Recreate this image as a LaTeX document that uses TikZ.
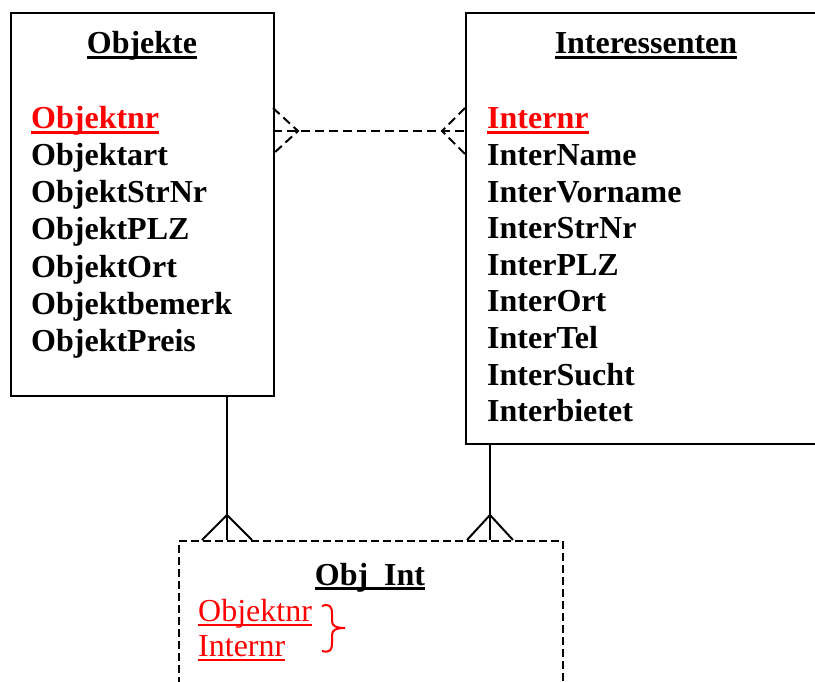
\documentclass[tikz,border=0pt]{standalone}
\usepackage{fontspec}
\setmainfont{Liberation Serif}
\newcommand{\ulx}[2]{\setbox0=\hbox{#2}\rlap{\rule[-5pt]{\wd0}{#1}}\box0}
\tikzset{
  ent/.style={draw, line width=2pt, anchor=north west, inner sep=0pt},
  lbl/.style={anchor=base west, inner sep=0pt, font=\fontsize{32}{36}\selectfont\bfseries},
  ttl/.style={anchor=base, inner sep=0pt, font=\fontsize{32}{36}\selectfont\bfseries},
  rl/.style={anchor=base west, inner sep=0pt, text=red, font=\fontsize{32}{36}\selectfont},
  rel/.style={line width=2pt, dash pattern=on 9pt off 5pt},
  conn/.style={line width=2pt}
}
\begin{document}
\begin{tikzpicture}[x=1pt,y=-1pt]
\useasboundingbox (0,0) rectangle (815,682);
\clip (0,0) rectangle (815,682);
% entities
\node[ent, minimum width=263pt, minimum height=383pt] (obj) at (10,12) {};
\node[ent, minimum width=360pt, minimum height=431pt] (int) at (465,12) {};
\node[ent, dash pattern=on 8pt off 4pt, minimum width=384pt, minimum height=200pt] (oi) at (178,540) {};
% titles
\node[ttl] (tobj) at (142,54) {\ulx{3pt}{Objekte}};
\node[ttl] (tint) at (646,54) {\ulx{3pt}{Interessenten}};
\node[ttl] (toi) at (370,585) {\ulx{3pt}{Obj\_Int}};
% Objekte attributes
\node[lbl, text=red] (o1) at (31,129) {\ulx{3pt}{Objektnr}};
\node[lbl] (o2) at (31,166) {Objektart};
\node[lbl] (o3) at (31,203) {ObjektStrNr};
\node[lbl] (o4) at (31,240) {ObjektPLZ};
\node[lbl] (o5) at (31,277) {ObjektOrt};
\node[lbl] (o6) at (31,314) {Objektbemerk};
\node[lbl] (o7) at (31,351) {ObjektPreis};
% Interessenten attributes
\node[lbl, text=red] (i1) at (487,129) {\ulx{3pt}{Internr}};
\node[lbl] (i2) at (487,165.6) {InterName};
\node[lbl] (i3) at (487,202.2) {InterVorname};
\node[lbl] (i4) at (487,238.8) {InterStrNr};
\node[lbl] (i5) at (487,275.4) {InterPLZ};
\node[lbl] (i6) at (487,312) {InterOrt};
\node[lbl] (i7) at (487,348.6) {InterTel};
\node[lbl] (i8) at (487,385.2) {InterSucht};
\node[lbl] (i9) at (487,421.8) {Interbietet};
% Obj_Int attributes
\node[rl] (k1) at (198,621) {\ulx{2pt}{Objektnr}};
\node[rl] (k2) at (198,656) {\ulx{2pt}{Internr}};
% brace
\draw[red, line width=2pt] (322,606) .. controls (330,603) and (332,607) .. (332,614) -- (332,621) .. controls (332,626) and (336,628) .. (345,628) .. controls (336,628) and (332,630) .. (332,635) -- (332,643) .. controls (332,650) and (330,653) .. (322,651);
% relation Objekte - Interessenten (dashed, crow's feet both ends)
\coordinate (a) at (273,131);
\coordinate (b) at (465,131);
\draw[rel] (a) -- (b);
\draw[rel] (273,108) -- (298,131) -- (273,154);
\draw[rel] (465,108) -- (442,131) -- (465,154);
% Objekte - Obj_Int
\coordinate (c1) at (227,395);
\coordinate (c2) at (227,540);
\draw[conn] (c1) -- (c2);
\draw[conn] (202,540) -- (227,515) -- (252,540);
% Interessenten - Obj_Int
\coordinate (d1) at (490,443);
\coordinate (d2) at (490,540);
\draw[conn] (d1) -- (d2);
\draw[conn] (467,540) -- (490,515) -- (513,540);
\end{tikzpicture}
\end{document}
